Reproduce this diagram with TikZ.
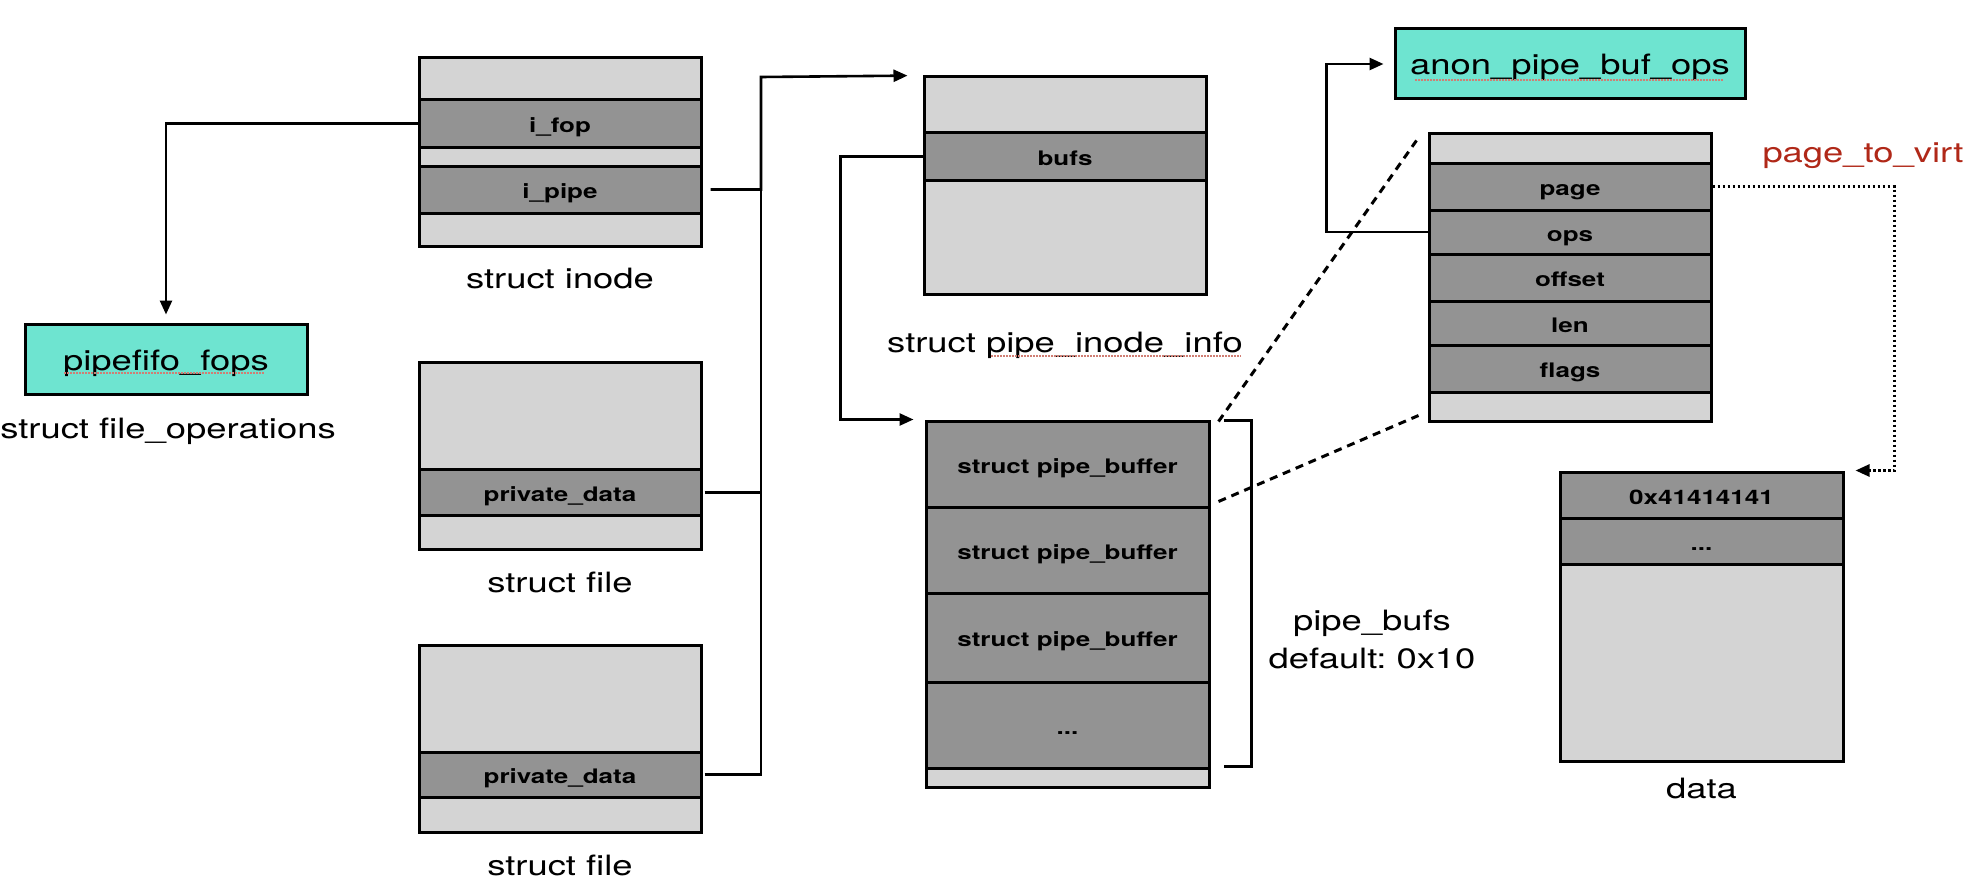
\documentclass[tikz,border=0pt]{standalone}
\usepackage{fontspec}
\setmainfont{TeX Gyre Heros}[FakeStretch=1.3]
\usetikzlibrary{arrows.meta}
\definecolor{cellbg}{RGB}{212,212,212}
\definecolor{fieldbg}{RGB}{147,147,147}
\definecolor{opsbg}{RGB}{110,228,208}
\definecolor{fnred}{RGB}{176,40,24}
\newcommand{\lblfont}{\fontsize{28}{38}\selectfont}
\newcommand{\cellfont}{\bfseries\fontsize{20}{24}\selectfont}
\frenchspacing

\begin{document}
\begin{tikzpicture}[x=1pt,y=-1pt,
  cell/.style={draw,line width=3pt,fill=cellbg,minimum width=282pt,inner sep=0pt},
  field/.style={cell,fill=fieldbg,font=\cellfont,text height=18pt,text depth=0pt},
  opsbox/.style={draw,line width=3pt,fill=opsbg,minimum height=70pt,font=\lblfont,text height=22pt,text depth=0pt},
  caption/.style={font=\lblfont,anchor=base},
  wire/.style={line width=2.6pt},
  link/.style={wire,-{Triangle[length=14pt,width=12pt]}},
  zoomline/.style={line width=3pt,dash pattern=on 8pt off 6pt},
  squiggle/.style={fnred!60,line width=1.2pt,dash pattern=on 1.5pt off 1.5pt}]
\useasboundingbox (0,0) rectangle (1972,888);

% struct inode
\node[cell,minimum height=42pt] (in0) at (560,79) {};
\node[field,minimum height=47pt] (ifop) at (560,123.5) {i\_fop};
\node[cell,minimum height=19pt] (in1) at (560,156.5) {};
\node[field,minimum height=47pt] (ipipe) at (560,189.5) {i\_pipe};
\node[cell,minimum height=33pt] (in2) at (560,229.5) {};
\node[caption] (inodelbl) at (560,288) {struct inode};

% struct file_operations
\node[opsbox,minimum width=282pt] (fops) at (166,359) {pipefifo\_fops};
\node[caption] (fopslbl) at (168,438) {struct file\_operations};
\draw[squiggle] (64,373) -- (265,373);

% struct file (x2)
\node[cell,minimum height=107pt] (f1a) at (560,416) {};
\node[field,minimum height=46.5pt] (pd1) at (560,492.6) {private\_data};
\node[cell,minimum height=34pt] (f1b) at (560,532.9) {};
\node[caption] (file1lbl) at (560,592) {struct file};

\node[cell,minimum height=107pt] (f2a) at (560,698.5) {};
\node[field,minimum height=45pt] (pd2) at (560,774.5) {private\_data};
\node[cell,minimum height=35pt] (f2b) at (560,814.5) {};
\node[caption] (file2lbl) at (560,875) {struct file};

% struct pipe_inode_info
\node[cell,minimum height=56pt] (pi0) at (1065,105) {};
\node[field,minimum height=47pt] (bufs) at (1065,156.5) {bufs};
\node[cell,minimum height=114pt] (pi1) at (1065,237) {};
\node[caption] (pinfolbl) at (1065,352) {struct pipe\_inode\_info};
\draw[squiggle] (991,356) -- (1241,356);

% pipe_buffer array
\node[field,minimum width=283pt,minimum height=86pt] (pb1) at (1067.5,464) {struct pipe\_buffer};
\node[field,minimum width=283pt,minimum height=86pt] (pb2) at (1067.5,550) {struct pipe\_buffer};
\node[field,minimum width=283pt,minimum height=89pt] (pb3) at (1067.5,637.5) {struct pipe\_buffer};
\node[field,minimum width=283pt,minimum height=86pt] (pbn) at (1067.5,725) {...};
\node[cell,minimum width=283pt,minimum height=19pt] (pbend) at (1067.5,777.5) {};
\draw[wire] ([xshift=13pt,yshift=-1pt]pb1.north east) -- ++(28,0) |- ([xshift=13pt,yshift=3pt]pbn.south east);
\node[font=\lblfont,align=center] (pbcount) at (1372,639) {pipe\_bufs\\default: 0x10};

% struct pipe_buffer fields
\node[opsbox,minimum width=350pt] (anon) at (1570,64) {anon\_pipe\_buf\_ops};
\draw[squiggle] (1415,80) -- (1723,80);
\node[cell,minimum height=29pt] (ps0) at (1570,148.5) {};
\node[field,minimum height=47pt] (page) at (1570,186.5) {page};
\node[field,minimum height=44pt] (ops) at (1570,232) {ops};
\node[field,minimum height=47pt] (offset) at (1570,277.5) {offset};
\node[field,minimum height=44pt] (len) at (1570,323) {len};
\node[field,minimum height=47pt] (flags) at (1570,368.5) {flags};
\node[cell,minimum height=29pt] (ps1) at (1570,406.5) {};
\node[caption,text=fnred] (p2v) at (1863,162) {page\_to\_virt};

% data page
\node[field,minimum width=283pt,minimum height=46pt] (d1) at (1701.5,495) {0x41414141};
\node[field,minimum width=283pt,minimum height=46pt] (d2) at (1701.5,541) {...};
\node[cell,minimum width=283pt,minimum height=197pt] (d3) at (1701.5,662.5) {};
\node[caption] (datalbl) at (1701.5,798) {data};

% pointers
\coordinate (bus) at (761,77);
\draw[link,shorten >=8pt] (ifop.west) -| (fops.north);
\draw[link,shorten >=15pt] ([xshift=8pt]ipipe.east) -| (bus) -- (pi0.north west);
\draw[wire] ([xshift=2pt]pd1.east) -| (bus);
\draw[wire] ([xshift=2pt]pd2.east) -| (bus);
\draw[link,shorten >=11pt] (bufs.west) -- ++(-82,0) |- (pb1.north west);
\draw[link,shorten >=10pt] (ops.west) -- ++(-101,0) |- (anon.west);
\draw[link,dash pattern=on 2.5pt off 2.5pt,shorten >=11pt] (page.east) -- ++(182,0) |- (d1.north east);
\draw[zoomline] ([xshift=8pt,yshift=-2pt]pb1.north east) -- ([xshift=-11pt,yshift=-8pt]ps0.north west);
\draw[zoomline] ([xshift=8pt,yshift=7pt]pb1.south east) -- ([xshift=-9pt,yshift=7pt]ps1.south west);
\end{tikzpicture}
\end{document}
